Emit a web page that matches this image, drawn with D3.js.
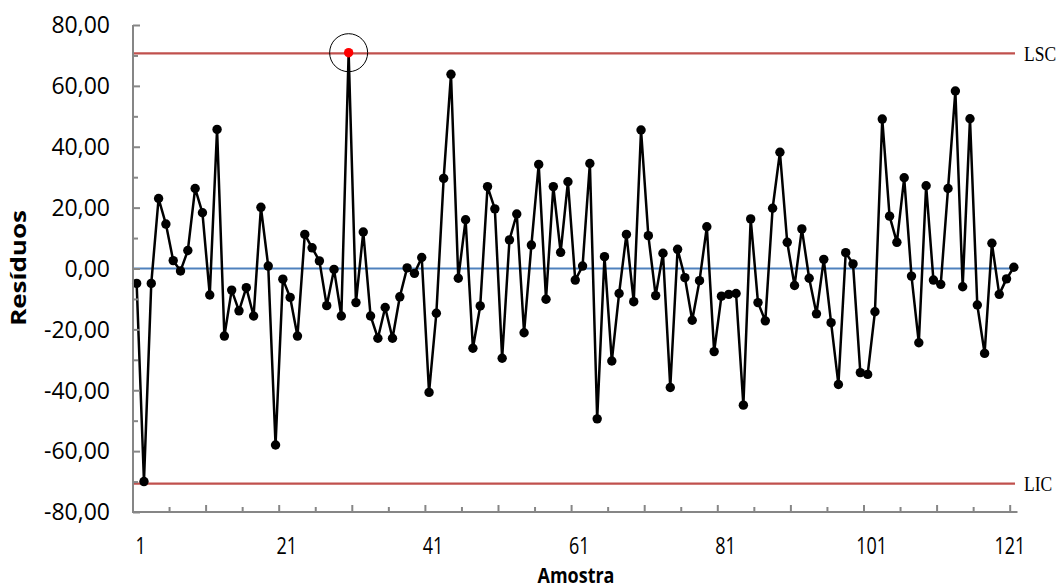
<!DOCTYPE html>
<html>
<head>
<meta charset="utf-8">
<script src="https://cdn.jsdelivr.net/npm/d3@7/dist/d3.min.js"></script>
<style>
  html, body { margin: 0; padding: 0; background: #fff; }
  svg { display: block; }
</style>
</head>
<body>
<svg id="chart" width="1061" height="588"></svg>
<script>
// Residuals per sample (control chart of residuals)
const samples = d3.range(1, 122);
const residuals = [
  -4.9, -70.0, -4.9, 23.0, 14.6, 2.6, -0.8, 5.9, 26.3, 18.3,
  -8.7, 45.7, -22.2, -7.1, -13.9, -6.3, -15.6, 20.1, 0.8, -58.0,
  -3.5, -9.5, -22.2, 11.2, 6.8, 2.5, -12.2, -0.3, -15.6, 70.9,
  -11.2, 12.0, -15.6, -22.9, -12.8, -22.9, -9.3, 0.2, -1.6, 3.6,
  -40.7, -14.7, 29.6, 63.8, -3.2, 16.0, -26.2, -12.3, 26.9, 19.6,
  -29.5, 9.4, 17.9, -21.1, 7.7, 34.2, -10.1, 26.9, 5.3, 28.5,
  -3.8, 0.8, 34.5, -49.4, 3.9, -30.4, -8.2, 11.2, -10.9, 45.5,
  10.8, -8.9, 5.0, -39.1, 6.3, -3.0, -17.0, -4.0, 13.7, -27.3,
  -9.1, -8.5, -8.2, -44.9, 16.3, -11.2, -17.2, 19.8, 38.2, 8.6,
  -5.6, 13.0, -3.2, -14.9, 3.0, -17.8, -38.1, 5.2, 1.5, -34.2,
  -34.8, -14.2, 49.1, 17.2, 8.6, 29.8, -2.5, -24.4, 27.2, -3.8,
  -5.2, 26.3, 58.3, -6.0, 49.2, -12.0, -27.9, 8.3, -8.5, -3.4,
  0.4
];

// Control limits and centre line
const limitValues = { LSC: 70.7, LIC: -70.7 };
const centerValue = 0;

// Sample flagged beyond the upper limit
const outOfControl = [30];

// Axis tick labels
const yTickValues = [-80, -60, -40, -20, 0, 20, 40, 60, 80];
const yMinorTicks = [-70, -50, -30, -10, 10, 30, 50, 70];
const xTickLabels = [1, 21, 41, 61, 81, 101, 121];

const svg = d3.select("#chart");
const plotLeft = 133, plotRight = 1017.5, plotTop = 25, plotBottom = 512;

const x = d3.scaleBand().domain(samples).range([plotLeft, plotRight]).paddingInner(0).paddingOuter(0);
const cx = d => x(d) + x.bandwidth() / 2;
const y = d3.scaleLinear().domain([-80, 80]).range([plotBottom, plotTop]);

const fmt = d3.formatLocale({ decimal: ",", thousands: ".", grouping: [3], currency: ["", ""], minus: "-" }).format(".2f");

const axisColor = "#868686";
const sans = "'Open Sans', sans-serif";
const g = svg.append("g");

// Centre line
g.append("line")
  .attr("x1", plotLeft).attr("x2", plotRight - 1)
  .attr("y1", y(centerValue)).attr("y2", y(centerValue))
  .attr("stroke", "#4F81BD").attr("stroke-width", 2.2);

// Control limit lines with labels
Object.entries(limitValues).forEach(([name, v]) => {
  g.append("line")
    .attr("x1", plotLeft).attr("x2", plotRight - 2.5)
    .attr("y1", y(v)).attr("y2", y(v))
    .attr("stroke", "#C0504D").attr("stroke-width", 2.3);
  g.append("text")
    .attr("transform", `translate(1024,${y(v)}) scale(1,1.22)`)
    .attr("dy", "0.35em")
    .attr("font-family", "'Liberation Serif', 'Times New Roman', serif")
    .attr("font-size", 17.5)
    .attr("fill", "#000")
    .text(name);
});

// Y axis (ticks pointing into the plot)
const yAxis = d3.axisRight(y).tickValues(yTickValues).tickSize(7).tickFormat("");
const ya = svg.append("g").attr("transform", `translate(${plotLeft},0)`).call(yAxis);
ya.select(".domain").remove();
ya.selectAll(".tick line").attr("stroke", axisColor).attr("stroke-width", 2);
const yMinor = d3.axisRight(y).tickValues(yMinorTicks).tickSize(5).tickFormat("");
const ym = svg.append("g").attr("transform", `translate(${plotLeft},0)`).call(yMinor);
ym.select(".domain").remove();
ym.selectAll(".tick line").attr("stroke", axisColor).attr("stroke-width", 2);

svg.append("g").selectAll("text").data(yTickValues).join("text")
  .attr("transform", d => `translate(110,${y(d)})`)
  .attr("dy", "0.36em")
  .attr("text-anchor", "end")
  .attr("font-family", sans).attr("font-size", 23)
  .attr("fill", "#000")
  .text(d => fmt(d));

// X axis ticks at category boundaries every 5 samples
const boundaries = d3.range(5, 121, 5);
svg.append("g").selectAll("line").data(boundaries).join("line")
  .attr("x1", k => x(samples[k])).attr("x2", k => x(samples[k]))
  .attr("y1", plotBottom).attr("y2", k => plotBottom - (k % 10 === 0 ? 7 : 5))
  .attr("stroke", axisColor).attr("stroke-width", 2);

// Frame lines (axes)
svg.append("line").attr("x1", plotLeft).attr("x2", plotLeft).attr("y1", plotTop).attr("y2", plotBottom)
  .attr("stroke", axisColor).attr("stroke-width", 2);
svg.append("line").attr("x1", plotLeft - 1).attr("x2", plotRight).attr("y1", plotBottom).attr("y2", plotBottom)
  .attr("stroke", axisColor).attr("stroke-width", 2);

svg.append("g").selectAll("text").data(xTickLabels).join("text")
  .attr("transform", d => `translate(${cx(d) + (d === 121 ? -4 : 4)},546) scale(1,1.3)`)
  .attr("dy", "0.36em")
  .attr("text-anchor", "middle")
  .attr("font-family", sans).attr("font-size", 18)
  .attr("fill", "#000")
  .text(d => d);

// Axis titles
svg.append("text")
  .attr("transform", "translate(576,583) scale(1,1.15)")
  .attr("text-anchor", "middle")
  .attr("font-family", sans).attr("font-size", 18).attr("font-weight", "bold")
  .text("Amostra");
svg.append("text")
  .attr("transform", "translate(18,268) rotate(-90) scale(1.18,1)")
  .attr("dy", "0.35em")
  .attr("text-anchor", "middle")
  .attr("font-family", sans).attr("font-size", 22).attr("font-weight", "bold")
  .text("Resíduos");

// Residual series
const line = d3.line().x((d, i) => cx(samples[i])).y(d => y(d));
g.append("path").datum(residuals)
  .attr("d", line)
  .attr("fill", "none").attr("stroke", "#000").attr("stroke-width", 2.5)
  .attr("stroke-linejoin", "round");

g.append("g").selectAll("circle").data(residuals).join("circle")
  .attr("cx", (d, i) => cx(samples[i]))
  .attr("cy", d => y(d))
  .attr("r", 4.7)
  .attr("fill", (d, i) => outOfControl.includes(samples[i]) ? "#FF0000" : "#000");

// Highlight ring around out-of-control samples
g.append("g").selectAll("circle").data(outOfControl).join("circle")
  .attr("cx", s => cx(s))
  .attr("cy", s => y(residuals[s - 1]))
  .attr("r", 19)
  .attr("fill", "none").attr("stroke", "#000").attr("stroke-width", 1);
</script>
</body>
</html>
